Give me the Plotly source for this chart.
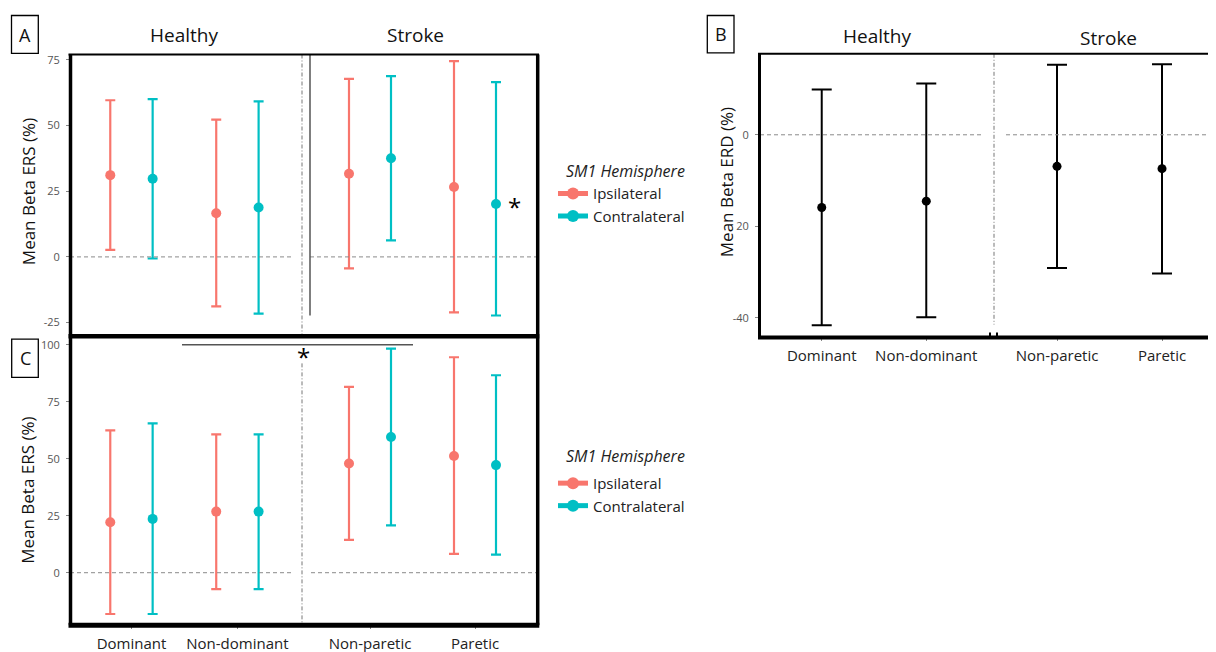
import plotly.graph_objects as go

W, H = 1216, 652
# the page body adds an 8px offset; compensate so positions match the frame
OX, OY = 8, 8


def fx(p):
    return (p - OX) / W


def fy(p):
    return 1 - (p - OY) / H


# ---------------- data ----------------
hemispheres = ["Ipsilateral", "Contralateral"]
hem_colors = ["#F8766D", "#00BFC4"]
healthy_cats = ["Dominant", "Non-dominant"]
stroke_cats = ["Non-paretic", "Paretic"]
group_titles = ["Healthy", "Stroke"]

# Panel A - Mean Beta ERS (%)
a_hea_ipsi_mean = [31.1, 16.6]
a_hea_ipsi_low = [2.7, -18.8]
a_hea_ipsi_high = [59.6, 52.2]
a_hea_con_mean = [29.7, 18.8]
a_hea_con_low = [-0.6, -21.6]
a_hea_con_high = [60.0, 59.2]
a_str_ipsi_mean = [31.6, 26.6]
a_str_ipsi_low = [-4.4, -21.1]
a_str_ipsi_high = [67.7, 74.5]
a_str_con_mean = [37.5, 20.1]
a_str_con_low = [6.3, -22.3]
a_str_con_high = [68.8, 66.5]

# Panel C - Mean Beta ERS (%)
c_hea_ipsi_mean = [22.1, 26.8]
c_hea_ipsi_low = [-18.1, -7.2]
c_hea_ipsi_high = [62.4, 60.7]
c_hea_con_mean = [23.6, 26.8]
c_hea_con_low = [-18.1, -7.2]
c_hea_con_high = [65.5, 60.7]
c_str_ipsi_mean = [47.9, 51.2]
c_str_ipsi_low = [14.4, 8.3]
c_str_ipsi_high = [81.5, 94.5]
c_str_con_mean = [59.5, 47.2]
c_str_con_low = [20.8, 7.9]
c_str_con_high = [98.3, 86.6]

# Panel B - Mean Beta ERD (%)
b_hea_mean = [-15.9, -14.5]
b_hea_low = [-41.6, -39.9]
b_hea_high = [9.9, 11.2]
b_str_mean = [-6.9, -7.4]
b_str_low = [-29.1, -30.3]
b_str_high = [15.3, 15.4]

a_ticks = [75, 50, 25, 0, -25]
c_ticks = [100, 75, 50, 25, 0]
b_tickvals = [0, -20, -40]
b_ticktext = ["0", "20", "-40"]

FONT = "Open Sans"
dodge = [-0.2, 0.2]

fig = go.Figure()


def pointrange(cats, mean, low, high, color, dx, xa, ya, size, cap, lw):
    fig.add_trace(go.Scatter(
        x=[i + dx for i in range(len(cats))],
        y=mean,
        mode="markers",
        marker=dict(color=color, size=size, line=dict(width=0)),
        error_y=dict(type="data", symmetric=False,
                     array=[h - m for h, m in zip(high, mean)],
                     arrayminus=[m - l for m, l in zip(mean, low)],
                     color=color, thickness=lw, width=cap),
        xaxis=xa, yaxis=ya, showlegend=False, hoverinfo="skip"))


# Panel A
pointrange(healthy_cats, a_hea_ipsi_mean, a_hea_ipsi_low, a_hea_ipsi_high, hem_colors[0], dodge[0], "x", "y", 10, 5, 2.2)
pointrange(healthy_cats, a_hea_con_mean, a_hea_con_low, a_hea_con_high, hem_colors[1], dodge[1], "x", "y", 10, 5, 2.2)
pointrange(stroke_cats, a_str_ipsi_mean, a_str_ipsi_low, a_str_ipsi_high, hem_colors[0], dodge[0], "x2", "y2", 10, 5, 2.2)
pointrange(stroke_cats, a_str_con_mean, a_str_con_low, a_str_con_high, hem_colors[1], dodge[1], "x2", "y2", 10, 5, 2.2)
# Panel C
pointrange(healthy_cats, c_hea_ipsi_mean, c_hea_ipsi_low, c_hea_ipsi_high, hem_colors[0], dodge[0], "x3", "y3", 10, 5, 2.2)
pointrange(healthy_cats, c_hea_con_mean, c_hea_con_low, c_hea_con_high, hem_colors[1], dodge[1], "x3", "y3", 10, 5, 2.2)
pointrange(stroke_cats, c_str_ipsi_mean, c_str_ipsi_low, c_str_ipsi_high, hem_colors[0], dodge[0], "x4", "y4", 10, 5, 2.2)
pointrange(stroke_cats, c_str_con_mean, c_str_con_low, c_str_con_high, hem_colors[1], dodge[1], "x4", "y4", 10, 5, 2.2)
# Panel B
pointrange(healthy_cats, b_hea_mean, b_hea_low, b_hea_high, "#000000", 0, "x5", "y5", 9, 10, 2)
pointrange(stroke_cats, b_str_mean, b_str_low, b_str_high, "#000000", 0, "x6", "y6", 9, 10, 2)

# legend entries (one legend for A, one for C)
for leg in ["legend", "legend2"]:
    for name, col in zip(hemispheres, hem_colors):
        fig.add_trace(go.Scatter(x=[None], y=[None], mode="lines+markers", name=name,
                                 marker=dict(color=col, size=10),
                                 line=dict(color=col, width=2),
                                 legend=leg, showlegend=True, hoverinfo="skip"))


def xax(d0, d1, rng, cats, show, anchor):
    return dict(domain=[fx(d0), fx(d1)], range=rng, anchor=anchor,
                tickvals=list(range(len(cats))), ticktext=cats,
                showticklabels=show, ticks="outside" if show else "",
                ticklen=3, tickcolor="#888", tickwidth=1, ticklabelstandoff=2,
                showgrid=False, zeroline=False, showline=False,
                tickfont=dict(family=FONT, size=15, color="#222"))


def yax(top, bottom, rng, tv, tt, show, anchor):
    return dict(domain=[fy(bottom), fy(top)], range=rng, anchor=anchor,
                tickvals=tv, ticktext=tt, showticklabels=show,
                ticks="outside" if show else "", ticklen=3, tickcolor="#888", tickwidth=1,
                ticklabelstandoff=4,
                showgrid=False, zeroline=False, showline=False,
                tickfont=dict(family=FONT, size=11, color="#555"))


A_TOP, A_BOT = 51.7, 334.0
C_TOP, C_BOT = 335.0, 625.0
B_TOP, B_BOT = 51.0, 336.0
a_rng = [-29.9, 77.0]
c_rng = [-23.0, 103.6]
b_rng = [-44.3, 17.7]

fig.update_layout(
    xaxis=xax(70, 301, [-0.58, 1.6], healthy_cats, False, "y"),
    xaxis2=xax(307, 538, [-0.6, 1.6], stroke_cats, False, "y2"),
    xaxis3=xax(70, 301, [-0.58, 1.6], healthy_cats, True, "y3"),
    xaxis4=xax(307, 538, [-0.6, 1.6], stroke_cats, True, "y4"),
    xaxis5=xax(759, 989, [-0.6, 1.6], healthy_cats, True, "y5"),
    xaxis6=xax(994, 1216, [-0.6, 1.514], stroke_cats, True, "y6"),
    yaxis=yax(A_TOP, A_BOT, a_rng, a_ticks, [str(t) for t in a_ticks], True, "x"),
    yaxis2=yax(A_TOP, A_BOT, a_rng, a_ticks, [str(t) for t in a_ticks], False, "x2"),
    yaxis3=yax(C_TOP, C_BOT, c_rng, c_ticks, [str(t) for t in c_ticks], True, "x3"),
    yaxis4=yax(C_TOP, C_BOT, c_rng, c_ticks, [str(t) for t in c_ticks], False, "x4"),
    yaxis5=yax(B_TOP, B_BOT, b_rng, b_tickvals, b_ticktext, True, "x5"),
    yaxis6=yax(B_TOP, B_BOT, b_rng, b_tickvals, b_ticktext, False, "x6"),
)

shapes = []


def pline(x0, y0, x1, y1, w, color="#000", dash="solid"):
    shapes.append(dict(type="line", xref="paper", yref="paper",
                       x0=fx(x0), x1=fx(x1), y0=fy(y0), y1=fy(y1),
                       line=dict(color=color, width=w, dash=dash)))


def zline(x0, x1, yref):
    shapes.append(dict(type="line", xref="paper", yref=yref,
                       x0=fx(x0), x1=fx(x1), y0=0, y1=0,
                       line=dict(color="#8a8a8a", width=1, dash="4px,3px")))


# zero reference lines
zline(70, 293, "y")
zline(310, 537, "y")
zline(70, 293, "y3")
zline(311, 537, "y3")
zline(760, 983, "y5")
zline(1006, 1216, "y5")

# facet dividers
pline(302, A_TOP, 302, A_BOT, 1, "#777", "4px,2px,1px,2px")
pline(310, 52, 310, 314, 1.5, "#555")
pline(302, 362, 302, C_BOT, 1, "#777", "4px,2px,1px,2px")
pline(994, B_TOP, 994, 323, 1, "#777", "4px,2px,1px,2px")
pline(990, 331, 990, 336, 2, "#000")
pline(997, 331, 997, 336, 2, "#000")

# significance bar in C
pline(182, 343.3, 413, 343.3, 1.5, "#555")

# panel borders
pline(68.5, A_TOP, 539, A_TOP, 2)
pline(70.5, A_TOP, 70.5, C_BOT, 3.5)
pline(537.7, A_TOP, 537.7, C_BOT, 3.5)
pline(68.5, 334.8, 539.3, 334.8, 4.5)
pline(68.5, C_BOT, 539.3, C_BOT, 5)
pline(758, B_TOP, 1224, B_TOP, 2)
pline(759.5, B_TOP, 759.5, B_BOT, 3)
pline(758, B_BOT, 1224, B_BOT, 4)

# panel letter boxes
for (x0, y0, x1, y1) in [(11.5, 12.5, 38.3, 50.5), (707.3, 12.5, 734, 50), (11.7, 337.7, 38.3, 376)]:
    shapes.append(dict(type="rect", xref="paper", yref="paper",
                       x0=fx(x0), x1=fx(x1), y0=fy(y1), y1=fy(y0),
                       line=dict(color="#000", width=1.3), fillcolor="rgba(0,0,0,0)"))

fig.update_layout(shapes=shapes)

ann = []


def text(x, y, s, size, color="#111", angle=0, xanchor="center", **kw):
    ann.append(dict(x=fx(x), y=fy(y), xref="paper", yref="paper", text=s,
                    showarrow=False, xanchor=xanchor, yanchor="middle", textangle=angle,
                    font=dict(family=FONT, size=size, color=color, **kw)))


text(184, 32, group_titles[0], 19)
text(415, 32, group_titles[1], 19)
text(877, 33.5, group_titles[0], 19)
text(1108, 35, group_titles[1], 19)
text(25, 32, "A", 18)
text(720.7, 31.5, "B", 18)
text(25, 357, "C", 18)
text(28, 190, "Mean Beta ERS (%)", 17, "#111", -90)
text(28, 490, "Mean Beta ERS (%)", 17, "#111", -90)
text(726, 180, "Mean Beta ERD (%)", 17, "#111", -90)
text(514, 204, "*", 24, "#000")
text(303.5, 355, "*", 24, "#000")
# legend titles
text(564, 169, "SM1 Hemisphere", 16, "#222", xanchor="left", style="italic")
text(564, 455, "SM1 Hemisphere", 16, "#222", xanchor="left", style="italic")

fig.update_layout(annotations=ann)

legend_common = dict(
    xanchor="left", yanchor="top", bgcolor="rgba(0,0,0,0)",
    font=dict(family=FONT, size=15, color="#222"),
    tracegroupgap=0, itemsizing="constant",
)

fig.update_layout(
    width=W, height=H,
    margin=dict(l=0, r=0, t=0, b=0),
    paper_bgcolor="white", plot_bgcolor="rgba(0,0,0,0)",
    showlegend=True,
    legend=dict(x=fx(553), y=fy(175), **legend_common),
    legend2=dict(x=fx(553), y=fy(466), **legend_common),
)

fig.write_html("out.html")
